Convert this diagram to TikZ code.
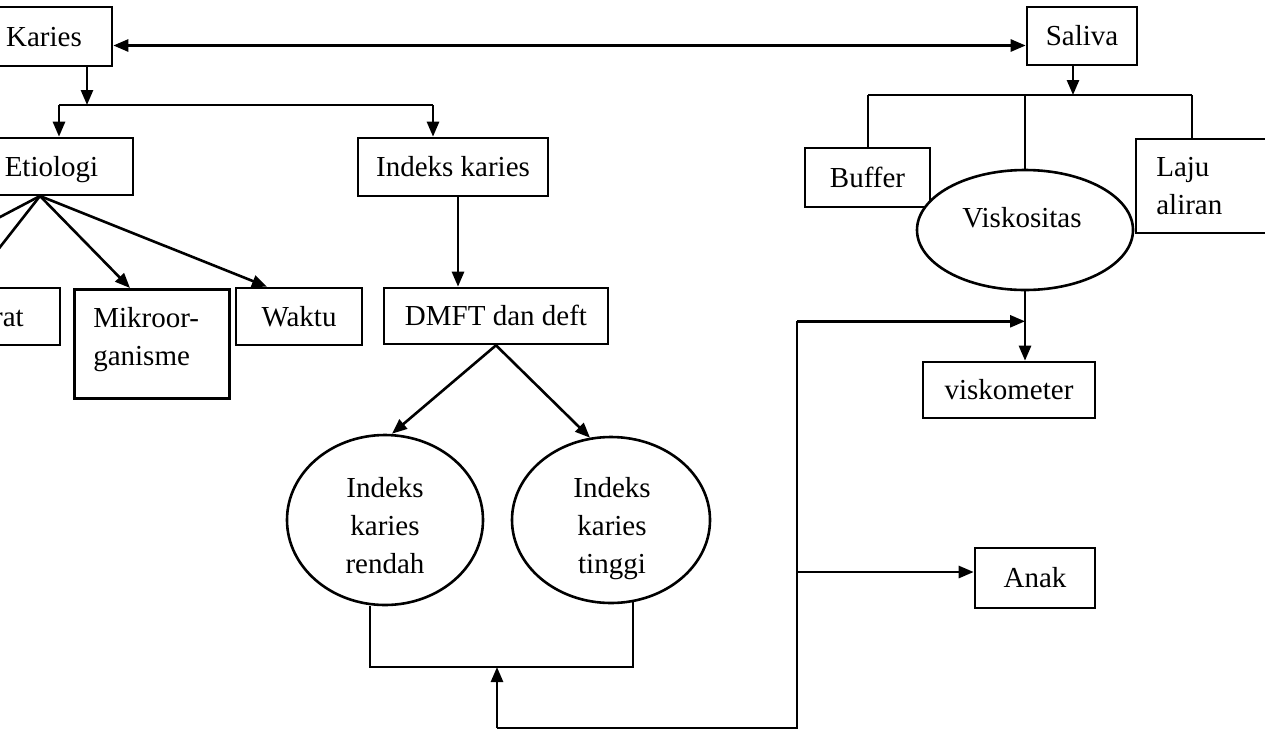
\documentclass[tikz,border=0pt]{standalone}
\usepackage{fontspec}
\setmainfont{Liberation Serif}
\usetikzlibrary{arrows.meta,shapes.geometric}
\begin{document}
\begin{tikzpicture}[x=1pt,y=-1pt,
  line width=2.6pt,
  lbl/.style={font=\fontsize{29}{38}\selectfont},
  box/.style={draw, rectangle, inner sep=0pt, line width=2.6pt, lbl, text height=19pt, text depth=0pt},
  frame/.style={draw, rectangle, inner sep=0pt, line width=2.6pt},
  oval/.style={draw, ellipse, fill=white, inner sep=0pt, line width=2.6pt},
  txt/.style={lbl, inner sep=0pt},
  arr/.style={-{Triangle[length=15pt,width=12pt]}},
  darr/.style={{Triangle[length=15pt,width=12pt]}-{Triangle[length=15pt,width=12pt]}}
  ]
\useasboundingbox (0,0) rectangle (1265,734);
\clip (0,0) rectangle (1265,734);
\fill[white] (0,0) rectangle (1265,734);

% boxes
\node[box, minimum width=136pt, minimum height=59pt] (karies) at (44,36.5) {Karies};
\node[box, minimum width=110pt, minimum height=58pt] (saliva) at (1082,36) {Saliva};
\node[box, minimum width=163pt, minimum height=57pt] (etio) at (51.5,166.5) {Etiologi};
\node[box, minimum width=190pt, minimum height=58pt] (idx) at (453,167) {Indeks karies};
\node[frame, minimum width=160pt, minimum height=57pt] (substrat) at (-20,316.5) {};
\node[txt, anchor=base east] (rattxt) at (25,326) {rat};
\node[frame, minimum width=155pt, minimum height=109pt, anchor=north west] (mikro) at (73,288) {};
\node[txt, anchor=north west, align=left] (mikrotxt) at (92,306) {Mikroor-\\ganisme};
\node[box, minimum width=126pt, minimum height=57pt] (waktu) at (299,316.5) {Waktu};
\node[box, minimum width=224pt, minimum height=56pt] (dmft) at (496,316) {DMFT dan deft};
\node[oval, minimum width=196pt, minimum height=170pt] (ellL) at (385,520) {};
\node[txt, anchor=north, align=center] (ellLtxt) at (385,476) {Indeks\\karies\\rendah};
\node[oval, minimum width=198pt, minimum height=166pt] (ellR) at (611,520) {};
\node[txt, anchor=north, align=center] (ellRtxt) at (612,476) {Indeks\\karies\\tinggi};
\node[box, minimum width=125pt, minimum height=59pt] (buffer) at (867.5,177.5) {Buffer};
\node[frame, minimum width=164pt, minimum height=94pt] (laju) at (1218,186) {};
\node[txt, anchor=north west, align=left] (lajutxt) at (1155,156) {Laju\\aliran};
\node[oval, minimum width=216pt, minimum height=120pt] (visk) at (1025,230) {};
\node[txt, anchor=base] (vísktxt) at (1022,227) {Viskositas};
\node[box, minimum width=172pt, minimum height=56pt] (vmeter) at (1009,390) {viskometer};
\node[box, minimum width=120pt, minimum height=60pt] (anak) at (1035,578) {Anak};

% Karies <-> Saliva
\coordinate (kso) at ([yshift=-9pt]karies.east);
\draw[darr] (kso) -- (kso -| saliva.west);

% Karies down
\coordinate (bar1L) at (59,105);
\coordinate (bar1R) at (433,105);
\coordinate (kdown) at (87,105);
\draw[arr] (kdown |- karies.south) -- (kdown);
\draw (bar1L) -- (bar1R);
\draw[arr] (bar1L) -- (bar1L |- etio.north);
\draw[arr] (bar1R) -- (bar1R |- idx.north);

% Etiologi fan
\coordinate (eapex) at (40,196);
\coordinate (offleft) at (-135,288);
\draw[arr] (eapex) -- (offleft);
\draw[arr] (eapex) -- ([xshift=-11pt]substrat.north);
\draw[arr] (eapex) -- ([xshift=57pt]mikro.north west);
\draw[arr] (eapex) -- ([xshift=-32pt]waktu.north);

% Indeks karies -> DMFT
\draw[arr] ([xshift=5pt]idx.south) -- ([xshift=5pt]idx.south |- dmft.north);
\draw[arr] (dmft.south) -- ([xshift=7pt]ellL.north);
\draw[arr] (dmft.south) -- ([xshift=-21pt,yshift=-2pt]ellR.north);

% bracket below ellipses
\coordinate (brR) at (633,667);
\draw ([xshift=-15pt]ellL.south) |- (brR) -- ([xshift=22pt,yshift=2pt]ellR.south);
\coordinate (loopB) at (497,728);
\draw[arr] (loopB) -- (loopB |- brR);
\coordinate (trunk) at (797,728);
\coordinate (vj) at ([yshift=-30pt]visk.south);
\draw (loopB) -- (trunk) -- (trunk |- vj);
\draw[arr] (trunk |- vj) -- (vj);
\coordinate (anakin) at ([yshift=6pt]anak.west);
\draw[arr] (trunk |- anakin) -- (anakin);

% Viskositas -> viskometer
\draw[arr] (visk.south) -- (visk.south |- vmeter.north);

% Saliva branches
\coordinate (sbar) at (1073,95);
\coordinate (sbarL) at (868,95);
\coordinate (sbarR) at (1192,95);
\draw[arr] (sbar |- saliva.south) -- (sbar);
\draw (sbarL) -- (sbarR);
\draw (sbarL) -- (sbarL |- buffer.north);
\draw (visk.north |- sbar) -- (visk.north);
\draw (sbarR) -- (sbarR |- laju.north);
\end{tikzpicture}
\end{document}
